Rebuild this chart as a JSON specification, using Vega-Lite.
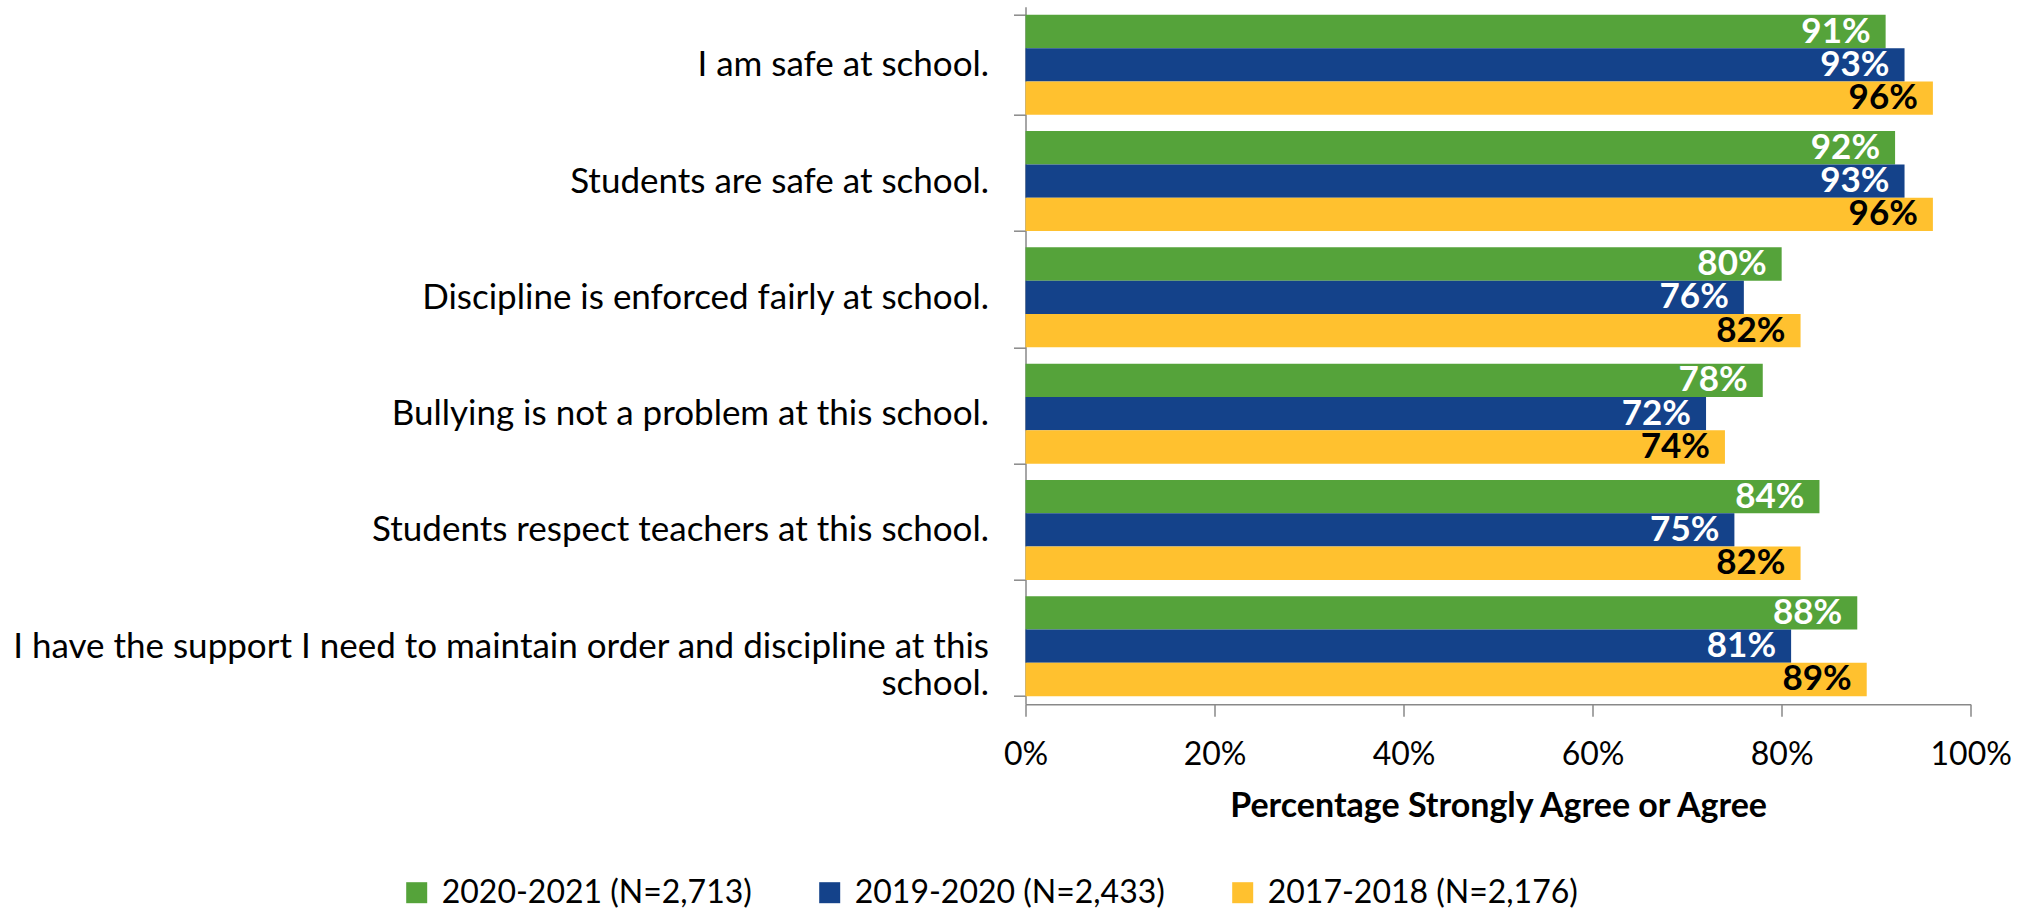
{
  "$schema": "https://vega.github.io/schema/vega-lite/v6.json",
  "width": 945.2,
  "height": 697.6,
  "autosize": {"type": "none"},
  "padding": {"left": 1025.5, "top": 6.7, "right": 59.3, "bottom": 204.7},
  "background": "white",
  "config": {"view": {"stroke": null}, "font": "Lato"},
  "data": {
    "values": [
      {"question": "I am safe at school.", "year": "2020-2021 (N=2,713)", "value": 0.91},
      {"question": "I am safe at school.", "year": "2019-2020 (N=2,433)", "value": 0.93},
      {"question": "I am safe at school.", "year": "2017-2018 (N=2,176)", "value": 0.96},
      {"question": "Students are safe at school.", "year": "2020-2021 (N=2,713)", "value": 0.92},
      {"question": "Students are safe at school.", "year": "2019-2020 (N=2,433)", "value": 0.93},
      {"question": "Students are safe at school.", "year": "2017-2018 (N=2,176)", "value": 0.96},
      {"question": "Discipline is enforced fairly at school.", "year": "2020-2021 (N=2,713)", "value": 0.80},
      {"question": "Discipline is enforced fairly at school.", "year": "2019-2020 (N=2,433)", "value": 0.76},
      {"question": "Discipline is enforced fairly at school.", "year": "2017-2018 (N=2,176)", "value": 0.82},
      {"question": "Bullying is not a problem at this school.", "year": "2020-2021 (N=2,713)", "value": 0.78},
      {"question": "Bullying is not a problem at this school.", "year": "2019-2020 (N=2,433)", "value": 0.72},
      {"question": "Bullying is not a problem at this school.", "year": "2017-2018 (N=2,176)", "value": 0.74},
      {"question": "Students respect teachers at this school.", "year": "2020-2021 (N=2,713)", "value": 0.84},
      {"question": "Students respect teachers at this school.", "year": "2019-2020 (N=2,433)", "value": 0.75},
      {"question": "Students respect teachers at this school.", "year": "2017-2018 (N=2,176)", "value": 0.82},
      {"question": "I have the support I need to maintain order and discipline at this school.", "year": "2020-2021 (N=2,713)", "value": 0.88},
      {"question": "I have the support I need to maintain order and discipline at this school.", "year": "2019-2020 (N=2,433)", "value": 0.81},
      {"question": "I have the support I need to maintain order and discipline at this school.", "year": "2017-2018 (N=2,176)", "value": 0.89}
    ]
  },
  "encoding": {
    "y": {
      "field": "question",
      "type": "nominal",
      "sort": null,
      "scale": {"paddingInner": 0.14, "paddingOuter": 0.07},
      "axis": {
        "title": null,
        "grid": false,
        "domainColor": "#898989",
        "domainWidth": 1.5,
        "tickColor": "#898989",
        "tickWidth": 1.5,
        "tickSize": 12,
        "tickBand": "extent",
        "labelFont": "Lato",
        "labelFontSize": 35,
        "labelColor": "#000000",
        "labelPadding": 25,
        "labelLimit": 1100,
        "labelExpr": "datum.value == 'I have the support I need to maintain order and discipline at this school.' ? ['I have the support I need to maintain order and discipline at this', 'school.'] : datum.value"
      }
    },
    "yOffset": {
      "field": "year",
      "type": "nominal",
      "sort": ["2020-2021 (N=2,713)", "2019-2020 (N=2,433)", "2017-2018 (N=2,176)"]
    },
    "x": {
      "field": "value",
      "type": "quantitative",
      "scale": {"domain": [0, 1], "nice": false},
      "axis": {
        "title": "Percentage Strongly Agree or Agree",
        "values": [0, 0.2, 0.4, 0.6, 0.8, 1],
        "format": ".0%",
        "grid": false,
        "domainColor": "#898989",
        "domainWidth": 1.5,
        "tickColor": "#898989",
        "tickWidth": 1.5,
        "tickSize": 12,
        "labelFont": "Lato",
        "labelFontSize": 32,
        "labelColor": "#000000",
        "labelBaseline": "alphabetic",
        "labelPadding": 47.7,
        "labelFlush": false,
        "labelOverlap": false,
        "titleFont": "Lato",
        "titleFontSize": 34,
        "titleFontWeight": "bold",
        "titleColor": "#000000",
        "titleBaseline": "alphabetic",
        "titleY": 112.4
      }
    }
  },
  "layer": [
    {
      "mark": {"type": "bar"},
      "encoding": {
        "color": {
          "field": "year",
          "type": "nominal",
          "scale": {
            "domain": ["2020-2021 (N=2,713)", "2019-2020 (N=2,433)", "2017-2018 (N=2,176)"],
            "range": ["#55A33A", "#14428A", "#FFC12F"]
          },
          "legend": {
            "orient": "none",
            "legendX": -624.8,
            "legendY": 870,
            "direction": "horizontal",
            "title": null,
            "symbolType": "square",
            "symbolSize": 441,
            "symbolStrokeWidth": 0,
            "labelFont": "Lato",
            "labelFontSize": 32,
            "labelColor": "#000000",
            "labelOffset": 9,
            "labelLimit": 600,
            "columnPadding": 61
          }
        }
      }
    },
    {
      "mark": {"type": "text", "align": "right", "baseline": "middle", "dx": -15, "font": "Lato", "fontWeight": "bold", "fontSize": 35},
      "encoding": {
        "text": {"field": "value", "type": "quantitative", "format": ".0%"},
        "color": {
          "condition": {"test": "datum.year === '2017-2018 (N=2,176)'", "value": "#000000"},
          "value": "#ffffff"
        }
      }
    }
  ]
}
